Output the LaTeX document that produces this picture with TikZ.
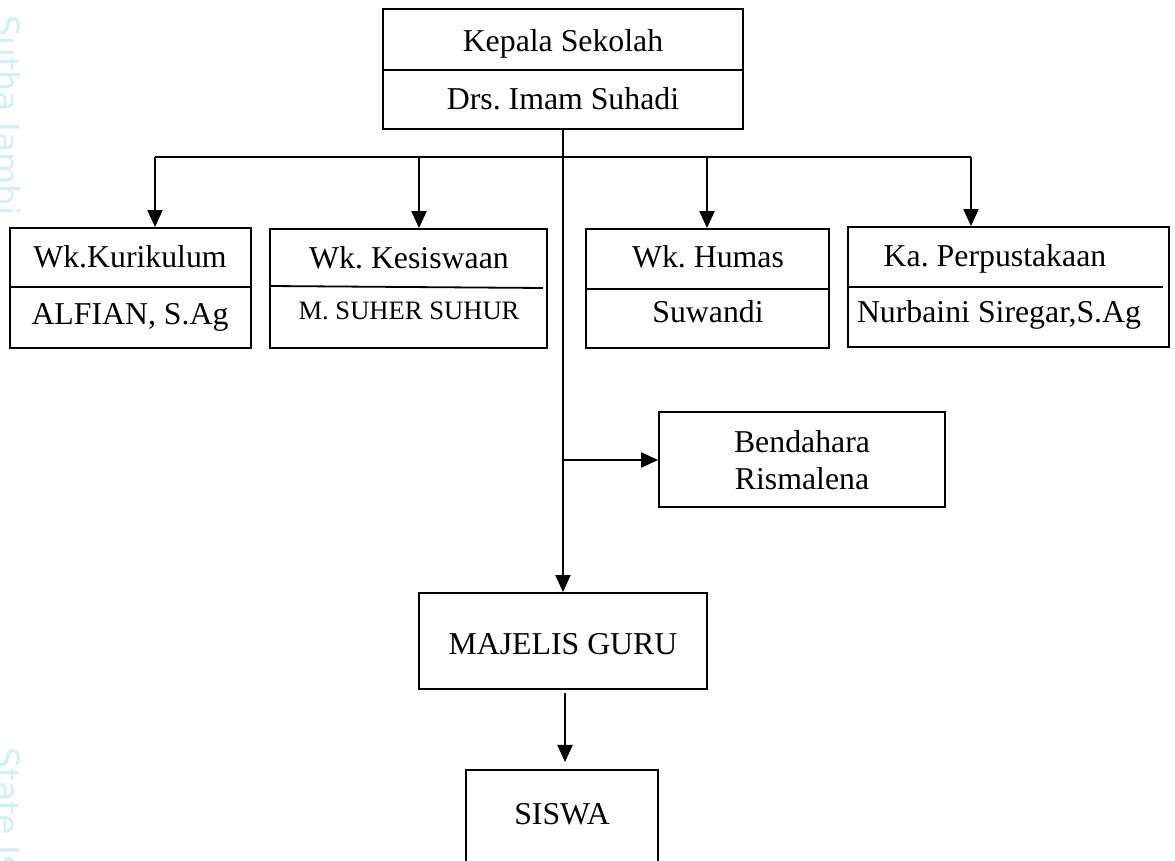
\documentclass[tikz,border=0pt]{standalone}
\usepackage{fontspec}
\setmainfont{Liberation Serif}
\newfontfamily\wmfont{DejaVu Sans}
\usetikzlibrary{arrows.meta}
\definecolor{wm}{RGB}{205,240,250}
\frenchspacing
\begin{document}
\frenchspacing
\begin{tikzpicture}[x=0.5pt,y=-0.5pt,
  orgbox/.style={draw, line width=0.9pt, inner sep=0pt},
  lbl/.style={anchor=base, inner sep=0pt, font=\fontsize{15.9}{19}\selectfont\frenchspacing},
  sml/.style={anchor=base, inner sep=0pt, font=\fontsize{13.3}{16}\selectfont\frenchspacing},
  arr/.style={line width=1pt, -{Triangle[length=8.5pt,width=7.5pt]}},
  conn/.style={line width=1pt},
  divl/.style={line width=0.9pt},
  wmark/.style={rotate=-90, anchor=base west, inner sep=0pt, text=wm, font=\wmfont\fontsize{16.6}{20}\selectfont}]
\useasboundingbox (0,0) rectangle (1175,861);

% watermark
\node[wmark] (wm1) at (-4,15) {Sutha Jambi};
\node[wmark] (wm2) at (-4,747) {State Is};

% boxes
\node[orgbox, minimum width=180pt, minimum height=60pt] (top) at (563,69) {};
\node[orgbox, minimum width=120.5pt, minimum height=60pt] (b1) at (130.5,288) {};
\node[orgbox, minimum width=138.5pt, minimum height=59.5pt] (b2) at (408.5,288.5) {};
\node[orgbox, minimum width=121.5pt, minimum height=59.5pt] (b3) at (707.5,288.5) {};
\node[orgbox, minimum width=160.5pt, minimum height=60pt] (b4) at (1008.5,287) {};
\node[orgbox, minimum width=143pt, minimum height=47.5pt] (bend) at (802,459.5) {};
\node[orgbox, minimum width=144pt, minimum height=48pt] (maj) at (563,641) {};
\node[orgbox, minimum width=96pt, minimum height=65pt] (sis) at (562,835) {};

% dividers
\draw[divl] (top.west |- 0,70) -- (top.east |- 0,70);
\draw[divl] (b1.west |- 0,287) -- (b1.east |- 0,287);
\draw[divl] (b2.west |- 0,286) -- (543,288);
\draw[divl] (b3.west |- 0,289) -- (b3.east |- 0,289);
\draw[divl] (b4.west |- 0,287) -- (1163,287);

% texts
\node[lbl] (t0a) at (563,52) {Kepala Sekolah};
\node[lbl] (t0b) at (563,110) {Drs. Imam Suhadi};
\node[lbl] (t1a) at (130,268) {Wk.Kurikulum};
\node[lbl] (t1b) at (130,325) {ALFIAN, S.Ag};
\node[lbl] (t2a) at (409,269) {Wk. Kesiswaan};
\node[sml] (t2b) at (409,320) {M. SUHER SUHUR};
\node[lbl] (t3a) at (708,268) {Wk. Humas};
\node[lbl] (t3b) at (708,323) {Suwandi};
\node[lbl] (t4a) at (995,267) {Ka. Perpustakaan};
\node[lbl] (t4b) at (999,323) {Nurbaini Siregar,S.Ag};
\node[lbl] (t5a) at (802,453) {Bendahara};
\node[lbl] (t5b) at (802,490) {Rismalena};
\node[lbl] (t6) at (563,655) {MAJELIS GURU};
\node[lbl] (t7) at (562,825) {SISWA};

% connectors
\coordinate (c1) at (155,157);
\coordinate (c2) at (419,157);
\coordinate (c3) at (707,157);
\coordinate (c4) at (971,157);
\coordinate (jb) at (563,460);
\draw[conn] (c1) -- (c4);
\draw[arr] (c1) -- (c1 |- b1.north);
\draw[arr] (c2) -- (c2 |- b2.north);
\draw[arr] (c3) -- (c3 |- b3.north);
\draw[arr] (c4) -- (c4 |- b4.north);
\draw[arr] (top.south) -- (maj.north);
\draw[arr] (jb) -- (bend.west |- jb);
\coordinate (m1) at (565,693);
\coordinate (m2) at (565,762);
\draw[arr] (m1) -- (m2);
\end{tikzpicture}
\end{document}
